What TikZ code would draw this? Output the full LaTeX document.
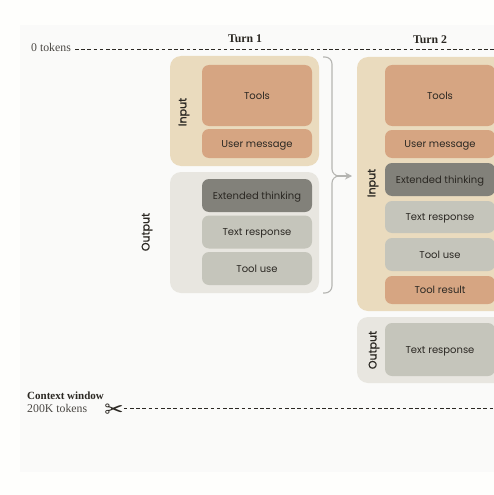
\documentclass[tikz,border=0pt]{standalone}
\usepackage{fontspec}
\setmainfont{Liberation Serif}
\newfontfamily\boxfont{Poppins}
\newfontfamily\symfont{DejaVu Sans}
\usetikzlibrary{arrows.meta, positioning, calc}
\definecolor{pagebg}{HTML}{FEFEFC}
\definecolor{panelbg}{HTML}{FAFAF9}
\definecolor{inputbg}{HTML}{EADBBE}
\definecolor{outputbg}{HTML}{E8E6E0}
\definecolor{terra}{HTML}{D6A582}
\definecolor{dkgray}{HTML}{82817A}
\definecolor{ltgray}{HTML}{C5C5BB}
\definecolor{inkdark}{HTML}{2B2823}
\definecolor{bracketgray}{HTML}{B5B5B2}

\begin{document}
\begin{tikzpicture}[
  x=1pt, y=-1pt,
  >={Stealth[length=7pt, width=7pt]},
  group/.style={rounded corners=11pt, inner sep=0pt},
  item/.style={rounded corners=7pt, inner sep=0pt, align=center, text=inkdark,
               minimum width=110pt, text height=9pt, text depth=2pt,
               font=\boxfont\fontsize{10}{11}\selectfont},
  sidelabel/.style={rotate=90, inner sep=0pt, text=inkdark,
                    font=\boxfont\fontsize{11}{12}\selectfont\addfontfeature{FakeBold=1.2}},
  turnlabel/.style={inner sep=0pt, text=inkdark, font=\fontsize{11.8}{13}\selectfont\bfseries},
  tokenlabel/.style={inner sep=0pt, anchor=west, text=inkdark!85, font=\fontsize{11.8}{13}\selectfont},
  limit/.style={line width=0.7pt, inkdark, dash pattern=on 3.6pt off 2.6pt},
]

% Background
\useasboundingbox (0,0) rectangle (494,495);
\clip (0,0) rectangle (494,495);
\fill[pagebg] (0,0) rectangle (494,495);
\fill[panelbg] (20,25) rectangle (494,472);

% Token limits
\node[tokenlabel] (zero) at (31,47) {0 tokens};
\coordinate (zeroend) at (494,49);
\draw[limit] (zero.east |- zeroend) ++(4,0) -- (zeroend);
\node[turnlabel] (turnone) at (245,39) {Turn 1};
\node[turnlabel] (turntwo) at (430,40) {Turn 2};

% ============ Turn 1 ============
\node[group, fill=inputbg, minimum width=149pt, minimum height=110pt] (inputone) at (244.5,111) {};
\node[group, fill=outputbg, minimum width=149pt, minimum height=121pt] (outputone) at (244.5,232.5) {};
\node[sidelabel] (inputonelabel) at (184,112) {Input};
\node[sidelabel] (outputonelabel) at (147,232) {Output};

\node[item, fill=terra, minimum height=61pt] (toolsone) at (257,95.5) {Tools};
\node[item, fill=terra, minimum height=29pt] (userone) at (257,143.5) {User message};
\node[item, fill=dkgray, minimum height=33pt] (thinkone) at (257,195.5) {Extended thinking};
\node[item, fill=ltgray, minimum height=33pt] (textone) at (257,232) {Text response};
\node[item, fill=ltgray, minimum height=33pt] (useone) at (257,268.5) {Tool use};

% ============ Turn 2 ============
\node[group, fill=inputbg, minimum width=160pt, minimum height=254pt] (inputtwo) at (437,184) {};
\node[group, fill=outputbg, minimum width=160pt, minimum height=66pt] (outputtwo) at (437,350) {};
\node[sidelabel] (inputtwolabel) at (373,183) {Input};
\node[sidelabel] (outputtwolabel) at (374,350) {Output};

\node[item, fill=terra, minimum height=61pt] (toolstwo) at (440,95.5) {Tools};
\node[item, fill=terra, minimum height=28pt] (usertwo) at (440,144) {User message};
\node[item, fill=dkgray, minimum height=33pt] (thinktwo) at (440,179.5) {Extended thinking};
\node[item, fill=ltgray, minimum height=32pt] (texttwo) at (440,217) {Text response};
\node[item, fill=ltgray, minimum height=33pt] (usetwo) at (440,254.5) {Tool use};
\node[item, fill=terra, minimum height=28pt] (resulttwo) at (440,290) {Tool result};
\node[item, fill=ltgray, minimum height=53pt] (answertwo) at (440,349.5) {Text response};

% Bracket into the next turn
\coordinate (bracketmid) at (337,176);
\coordinate (brackettip) at (352,176);
\draw[bracketgray, line width=1.1pt, rounded corners=7pt]
  (323,57) -- (332,57) -- (332,176) -- (bracketmid);
\draw[bracketgray, line width=1.1pt, rounded corners=7pt]
  (323,293) -- (332,293) -- (332,176) -- (bracketmid);
\draw[bracketgray, line width=1.1pt, ->] (bracketmid) -- (brackettip);

% Context window
\node[tokenlabel, font=\fontsize{11}{13}\selectfont\bfseries, text=inkdark] (window) at (27,396) {Context window};
\node[tokenlabel] (windowsize) at (27,408) {200K tokens};
\node[inner sep=0pt, text=inkdark, font=\symfont\fontsize{23}{23}\selectfont] (scissors) at (114,410.5) {✂};
\coordinate (windowend) at (494,408);
\draw[limit] (scissors.east |- windowend) -- (windowend);

\end{tikzpicture}
\end{document}
